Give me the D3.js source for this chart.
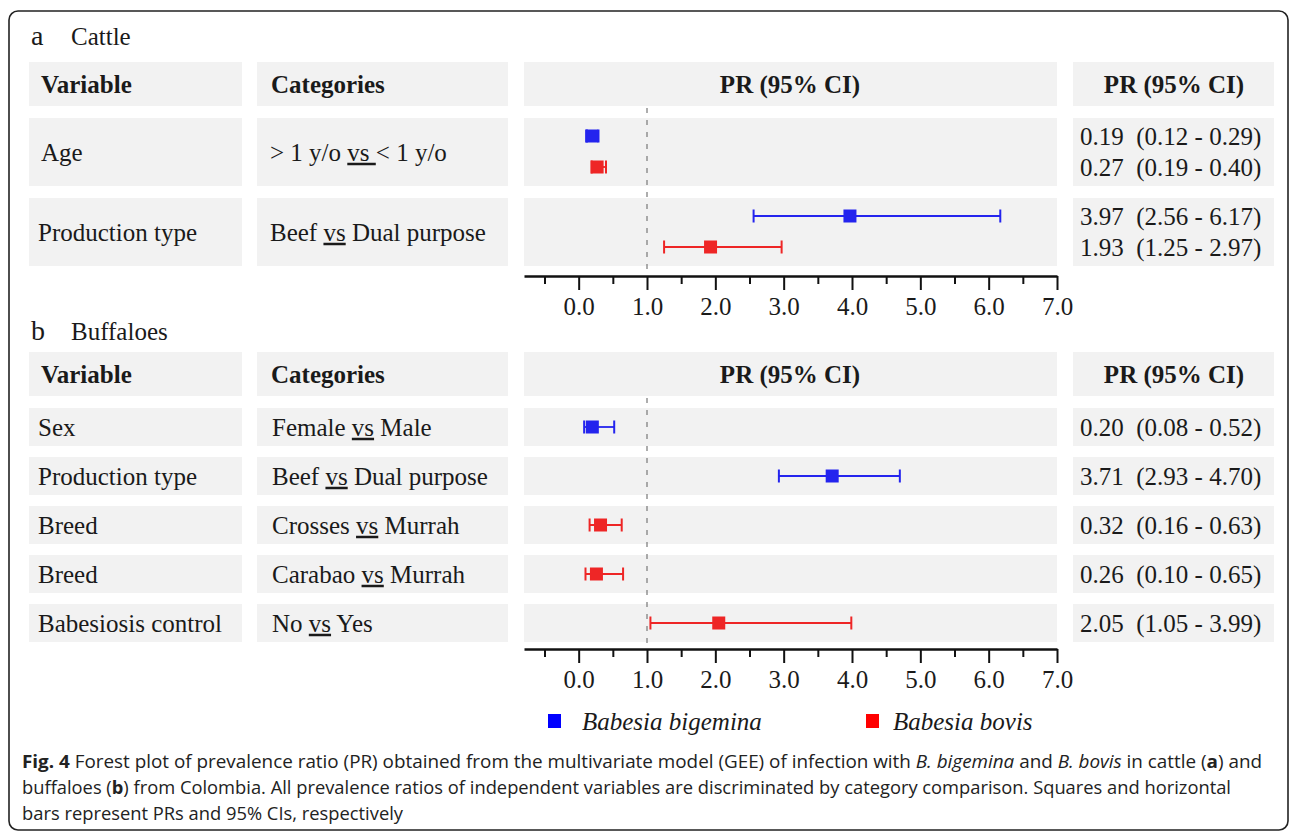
<!DOCTYPE html>
<html><head><meta charset="utf-8">
<script src="https://cdn.jsdelivr.net/npm/d3@7"></script>
<style>
html,body{margin:0;padding:0;background:#fff;}
svg{display:block;}
</style>
</head><body>
<svg id="chart" width="1292" height="833"></svg>
<script>
// ---------- DATA ----------
const panelTitles = ["Cattle", "Buffaloes"];
const panelLetters = ["a", "b"];
const headerLabels = ["Variable", "Categories", "PR (95% CI)", "PR (95% CI)"];
const seriesNames = ["Babesia bigemina", "Babesia bovis"];

const cattleVariables = ["Age", "Production type"];
const cattleCategories = ["> 1 y/o |vs |< 1 y/o", "Beef |vs| Dual purpose"];
const cattleBigeminaPR = [0.19, 3.97];
const cattleBigeminaLo = [0.12, 2.56];
const cattleBigeminaHi = [0.29, 6.17];
const cattleBovisPR = [0.27, 1.93];
const cattleBovisLo = [0.19, 1.25];
const cattleBovisHi = [0.40, 2.97];

const buffaloVariables = ["Sex", "Production type", "Breed", "Breed", "Babesiosis control"];
const buffaloCategories = ["Female |vs| Male", "Beef |vs| Dual purpose", "Crosses |vs| Murrah", "Carabao |vs| Murrah", "No |vs| Yes"];
const buffaloSeries = [0, 0, 1, 1, 1];
const buffaloPR = [0.20, 3.71, 0.32, 0.26, 2.05];
const buffaloLo = [0.08, 2.93, 0.16, 0.10, 1.05];
const buffaloHi = [0.52, 4.70, 0.63, 0.65, 3.99];

const majorTicks = [0, 1, 2, 3, 4, 5, 6, 7];
const minorTicks = [-0.5, 0.5, 1.5, 2.5, 3.5, 4.5, 5.5, 6.5];
const xDomain = [-0.8, 7];
const refValue = 1;

// ---------- STYLE ----------
const serif = "'Liberation Serif','Times New Roman',serif";
const colors = ["#2424ee", "#ee2626"];
const legendColors = ["#0000ff", "#ff0000"];
const boxFill = "#f2f2f2";
const ink = "#1a1a1a";
const fs = 25;

const svg = d3.select("#chart");

// outer rounded frame
svg.append("rect").attr("x", 9).attr("y", 11).attr("width", 1279).attr("height", 819)
  .attr("rx", 9).attr("fill", "none").attr("stroke", "#222").attr("stroke-width", 1.6);

const x = d3.scaleLinear().domain(xDomain).range([524, 1057]);

const cols = [
  {x: 29, w: 213},
  {x: 257, w: 251},
  {x: 524, w: 533},
  {x: 1073, w: 201}
];

function fmt(v) { return d3.format(".2f")(v); }

function catText(sel, str) {
  const parts = str.split("|");
  sel.append("tspan").text(parts[0]);
  sel.append("tspan").attr("text-decoration", "underline").text(parts[1]);
  sel.append("tspan").text(parts[2]);
}

function drawPanel(cfg) {
  const g = svg.append("g");
  g.append("text").attr("x", 31).attr("y", cfg.titleY).attr("font-family", serif)
    .attr("font-size", 28).attr("fill", ink).text(cfg.letter);
  g.append("text").attr("x", 71).attr("y", cfg.titleY).attr("font-family", serif)
    .attr("font-size", fs).attr("fill", ink).text(cfg.title);

  // header boxes
  cols.forEach(c => {
    g.append("rect").attr("x", c.x).attr("y", cfg.headerY).attr("width", c.w)
      .attr("height", cfg.headerH).attr("fill", boxFill);
  });
  const hy = cfg.headerY + cfg.headerH / 2;
  const hdr = [
    {x: 41, anchor: "start"},
    {x: 271, anchor: "start"},
    {x: 790, anchor: "middle"},
    {x: 1174, anchor: "middle"}
  ];
  headerLabels.forEach((h, i) => {
    g.append("text").attr("x", hdr[i].x).attr("y", hy).attr("dy", "0.35em")
      .attr("text-anchor", hdr[i].anchor).attr("font-family", serif)
      .attr("font-weight", "bold").attr("font-size", fs).attr("fill", ink).text(h);
  });

  // rows
  cfg.rows.forEach((r, i) => {
    const ry = cfg.rowY(i);
    cols.forEach(c => {
      g.append("rect").attr("x", c.x).attr("y", ry).attr("width", c.w)
        .attr("height", cfg.rowH).attr("fill", boxFill);
    });
    const cy = ry + cfg.rowH / 2;
    g.append("text").attr("x", cfg.varX(r.variable)).attr("y", cy).attr("dy", "0.35em")
      .attr("font-family", serif).attr("font-size", fs).attr("fill", ink).text(r.variable);
    const ct = g.append("text").attr("x", cfg.catX).attr("y", cy).attr("dy", "0.35em")
      .attr("font-family", serif).attr("font-size", fs).attr("fill", ink)
      .style("white-space", "pre");
    catText(ct, r.category);
    r.marks.forEach(m => {
      const my = cy + m.off;
      g.append("text").attr("x", 1080).attr("y", my).attr("dy", "0.35em")
        .attr("font-family", serif).attr("font-size", fs).attr("fill", ink)
        .style("white-space", "pre")
        .text(fmt(m.pr) + "  (" + fmt(m.lo) + " - " + fmt(m.hi) + ")");
    });
  });

  // reference dashed line
  g.append("line").attr("x1", x(refValue)).attr("x2", x(refValue))
    .attr("y1", cfg.headerY + cfg.headerH + 2).attr("y2", cfg.axisY - 2)
    .attr("stroke", "#777").attr("stroke-width", 1.2).attr("stroke-dasharray", "5,7");

  // marks
  cfg.rows.forEach((r, i) => {
    const cy = cfg.rowY(i) + cfg.rowH / 2;
    r.marks.forEach(m => {
      const my = cy + m.off;
      const col = colors[m.s];
      const mg = g.append("g");
      mg.append("line").attr("x1", x(m.lo)).attr("x2", x(m.hi)).attr("y1", my).attr("y2", my)
        .attr("stroke", col).attr("stroke-width", 1.8);
      [m.lo, m.hi].forEach(v => {
        mg.append("line").attr("x1", x(v)).attr("x2", x(v)).attr("y1", my - 6.5).attr("y2", my + 6.5)
          .attr("stroke", col).attr("stroke-width", 2);
      });
      mg.append("rect").attr("x", x(m.pr) - 6.5).attr("y", my - 6.5).attr("width", 13).attr("height", 13)
        .attr("fill", col);
    });
  });

  // axis
  const ag = g.append("g").attr("transform", `translate(0,${cfg.axisY})`);
  ag.call(d3.axisBottom(x).tickValues(majorTicks).tickSize(14).tickSizeOuter(0)
    .tickPadding(7).tickFormat(d3.format(".1f")));
  const ag2 = g.append("g").attr("transform", `translate(0,${cfg.axisY})`);
  ag2.call(d3.axisBottom(x).tickValues(minorTicks).tickSize(8).tickSizeOuter(0).tickFormat(""));
  ag2.select(".domain").remove();
  [ag, ag2].forEach(a => {
    a.select(".domain").attr("stroke", "#111").attr("stroke-width", 2.5);
    a.selectAll(".tick line").attr("stroke", "#111").attr("stroke-width", 2);
    a.selectAll(".tick text").attr("font-family", serif).attr("font-size", fs).attr("fill", ink);
  });
}

// Panel a: cattle
const cattleRows = cattleVariables.map((v, i) => ({
  variable: v, category: cattleCategories[i],
  marks: [
    {s: 0, pr: cattleBigeminaPR[i], lo: cattleBigeminaLo[i], hi: cattleBigeminaHi[i], off: -16},
    {s: 1, pr: cattleBovisPR[i], lo: cattleBovisLo[i], hi: cattleBovisHi[i], off: 15}
  ]
}));
drawPanel({
  letter: panelLetters[0], title: panelTitles[0], titleY: 45,
  headerY: 62, headerH: 44, rows: cattleRows, rowH: 68,
  rowY: i => 118 + i * 80, varX: v => v.length > 5 ? 38 : 41, catX: 270, axisY: 276
});

// Panel b: buffaloes
const buffaloRows = buffaloVariables.map((v, i) => ({
  variable: v, category: buffaloCategories[i],
  marks: [{s: buffaloSeries[i], pr: buffaloPR[i], lo: buffaloLo[i], hi: buffaloHi[i], off: 0}]
}));
drawPanel({
  letter: panelLetters[1], title: panelTitles[1], titleY: 340,
  headerY: 352, headerH: 44, rows: buffaloRows, rowH: 38,
  rowY: i => 408 + i * 49, varX: v => 38, catX: 272, axisY: 649
});

// legend
const lg = svg.append("g");
const legendX = [548, 866];
const legendTextX = [582, 893];
seriesNames.forEach((n, i) => {
  lg.append("rect").attr("x", legendX[i]).attr("y", 714).attr("width", 13).attr("height", 14)
    .attr("fill", legendColors[i]);
  lg.append("text").attr("x", legendTextX[i]).attr("y", 721).attr("dy", "0.35em")
    .attr("font-family", serif).attr("font-style", "italic").attr("font-size", fs)
    .attr("fill", ink).text(n);
});

// caption
const capFont = "'Open Sans','Noto Sans',sans-serif";
const capLines = [
  {y: 768, len: 1240, parts: [["Fig. 4", "b"], [" Forest plot of prevalence ratio (PR) obtained from the multivariate model (GEE) of infection with ", ""], ["B. bigemina", "i"], [" and ", ""], ["B. bovis", "i"], [" in cattle (", ""], ["a", "b"], [") and", ""]]},
  {y: 794, len: 1209, parts: [["buffaloes (", ""], ["b", "b"], [") from Colombia. All prevalence ratios of independent variables are discriminated by category comparison. Squares and horizontal", ""]]},
  {y: 820, len: 381, parts: [["bars represent PRs and 95% CIs, respectively", ""]]}
];
capLines.forEach(l => {
  const t = svg.append("text").attr("x", 22).attr("y", l.y).attr("font-family", capFont)
    .attr("font-size", 18).attr("fill", "#222")
    .attr("textLength", l.len).attr("lengthAdjust", "spacingAndGlyphs")
    .style("white-space", "pre");
  l.parts.forEach(p => {
    const ts = t.append("tspan").text(p[0]);
    if (p[1] === "b") ts.attr("font-weight", "bold");
    if (p[1] === "i") ts.attr("font-style", "italic");
  });
});
</script>
</body></html>
